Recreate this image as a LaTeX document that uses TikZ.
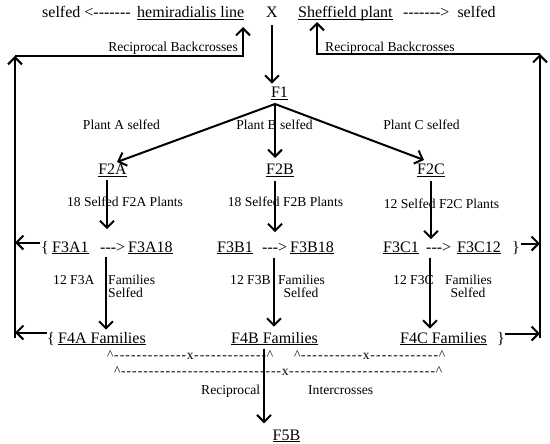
\documentclass[tikz,border=0pt]{standalone}
\usepackage{fontspec}
\setmainfont{Liberation Serif}[Ligatures=TeXOff]
\usetikzlibrary{arrows.meta}
\newcommand\BigTxt{\fontsize{16}{19}\selectfont}
\newcommand\SmTxt{\fontsize{13.6}{16}\selectfont}
\newcommand\myul[1]{\setbox0=\hbox{#1}\rlap{\rule[-2.3pt]{\wd0}{1pt}}\box0}
\newcommand\dfill[1]{\hbox to #1{\xleaders\hbox to 5.5pt{\hss-\hss}\hfill}}
\newcommand\dline[2]{\textasciicircum\dfill{#1}x\dfill{#2}\textasciicircum}
\begin{document}
\begin{tikzpicture}[x=1pt,y=-1pt,
  bigT/.style={font=\BigTxt, inner sep=0pt, anchor=base},
  bigW/.style={bigT, anchor=base west},
  smT/.style={font=\SmTxt, inner sep=0pt, anchor=base},
  smW/.style={smT, anchor=base west},
  smE/.style={smT, anchor=base east},
  arr/.style={line width=2pt, -{Straight Barb[length=7pt,width=14pt]}},
  ln/.style={line width=2pt}]
\useasboundingbox[fill=white] (0,0) rectangle (550,444);

% top row
\node[bigW] (selfL) at (42,18) {selfed <-------};
\node[bigW] (hemi) at (137,18) {\myul{hemiradialis line}};
\node[bigT] (X) at (272,18) {X};
\node[bigW] (shef) at (298,18) {\myul{Sheffield plant}};
\node[bigW] (selfR) at (403,18) {------->~~selfed};
\node[smE] (rbL) at (238,52) {Reciprocal Backcrosses};
\node[smW] (rbR) at (325,52) {Reciprocal Backcrosses};

% F1 and F2
\node[bigT] (F1) at (279.5,98) {\myul{F1}};
\node[smT] (pA) at (121.5,130) {Plant A selfed};
\node[smT] (pB) at (274.5,130) {Plant B selfed};
\node[smT] (pC) at (421.5,130) {Plant C selfed};
\node[bigT] (F2A) at (112.5,175) {\myul{F2A}};
\node[bigT] (F2B) at (280,175) {\myul{F2B}};
\node[bigT] (F2C) at (431,175) {\myul{F2C}};
\node[smT] (sA) at (125,207) {18 Selfed F2A Plants};
\node[smT] (sB) at (285.5,207) {18 Selfed F2B Plants};
\node[smT] (sC) at (441.5,208) {12 Selfed F2C Plants};

% F3 row
\node[bigW] (brA) at (41,252) {\{};
\node[bigW] (F3A1) at (52,252) {\myul{F3A1}};
\node[bigW] (dA) at (100,252) {--->};
\node[bigW] (F3A18) at (128,252) {\myul{F3A18}};
\node[bigW] (F3B1) at (217,252) {\myul{F3B1}};
\node[bigW] (dB) at (262,252) {--->};
\node[bigW] (F3B18) at (290,252) {\myul{F3B18}};
\node[bigW] (F3C1) at (383,252) {\myul{F3C1}};
\node[bigW] (dC) at (426,252) {--->};
\node[bigW] (F3C12) at (457,252) {\myul{F3C12}};
\node[bigW] (brC) at (512,252) {\}};

% F3 -> F4 labels
\node[smW] (nA) at (53,284.5) {12 F3A};
\node[smW] (famA) at (108,284.5) {Families};
\node[smW] (selA) at (108,298) {Selfed};
\node[smW] (nB) at (230,284.5) {12 F3B};
\node[smT] (famB) at (301.5,284.5) {Families};
\node[smT] (selB) at (301,298) {Selfed};
\node[smW] (nC) at (393,284.5) {12 F3C};
\node[smT] (famC) at (468.5,284.5) {Families};
\node[smT] (selC) at (468,298) {Selfed};

% F4 row
\node[bigW] (brA4) at (47,343) {\{};
\node[bigW] (F4A) at (58,343) {\myul{F4A Families}};
\node[bigW] (F4B) at (231,343) {\myul{F4B Families}};
\node[bigW] (F4C) at (400,343) {\myul{F4C Families}};
\node[bigW] (brC4) at (497,343) {\}};

% intercross lines
\node[smW] (xl1) at (107,359.5) {\dline{73.2pt}{73.2pt}};
\node[smW] (xl2) at (294,359.5) {\dline{62.2pt}{69.2pt}};
\node[smW] (xl3) at (114,375.5) {\dline{161.2pt}{147.2pt}};
\node[smW] (rec) at (201,394) {Reciprocal};
\node[smW] (int) at (308,394) {Intercrosses};
\node[bigT] (F5B) at (286.5,440) {\myul{F5B}};

% coordinates
\coordinate (F1b) at (275,104);
\coordinate (tA) at (117,162);
\coordinate (tB) at (275,158);
\coordinate (tC) at (424,160);
\coordinate (L1) at (15,56);
\coordinate (L2) at (243,56);
\coordinate (L3) at (243,27);
\coordinate (L4) at (15,338);
\coordinate (R1) at (540,54);
\coordinate (R2) at (317,54);
\coordinate (R3) at (317,22);
\coordinate (R4) at (540,338);

% arrows
\draw[arr] ([yshift=-7pt]X.south) -- ([yshift=3.5pt]X.south |- F1.north);
\draw[arr] (F1b) -- (tA);
\draw[arr] (F1b) -- (tB);
\draw[arr] (F1b) -- (tC);
\draw[arr] ([xshift=-5.5pt,yshift=-3pt]F2A.south) -- ([xshift=-5.5pt,yshift=12pt]F2A.south |- F3A18.north);
\draw[arr] ([xshift=-5pt,yshift=-4pt]F2B.south) -- ([xshift=-5pt,yshift=9pt]F2B.south |- F3B18.north);
\draw[arr] ([yshift=-4pt]F2C.south) -- ([yshift=2pt]F2C.south |- F3C12.north);
\draw[arr] ([xshift=-6.5pt,yshift=-2pt]F2A.south |- F3A1.south) -- ([xshift=-6.5pt,yshift=2pt]F2A.south |- F4A.north);
\draw[arr] ([xshift=-6pt,yshift=-3pt]F2B.south |- F3B1.south) -- ([xshift=-6pt,yshift=5pt]F2B.south |- F4B.north);
\draw[arr] ([xshift=-1pt,yshift=-3pt]F2C.south |- F3C1.south) -- ([xshift=-1pt,yshift=3pt]F2C.south |- F4C.north);
\draw[arr] ([xshift=-10.5pt,yshift=-3pt]F4B.south) -- ([xshift=-10.5pt,yshift=6pt]F4B.south |- F5B.north);

% backcross loops
\draw[arr] ([xshift=-1pt,yshift=5pt]brA.west) -- ([yshift=5pt]brA.west -| L1);
\draw[arr] ([yshift=6pt]brA4.west) -- ([yshift=6pt]brA4.west -| L1);
\draw[arr] (L4) -- (L1);
\draw[arr] (L1) -- (L2) -- (L3);
\draw[arr] ([xshift=1pt,yshift=4pt]brC.east) -- ([yshift=4pt]brC.east -| R1);
\draw[arr] ([yshift=5pt]brC4.east) -- ([yshift=5pt]brC4.east -| R1);
\draw[arr] (R4) -- (R1);
\draw[arr] (R1) -- (R2) -- (R3);
\end{tikzpicture}
\end{document}
